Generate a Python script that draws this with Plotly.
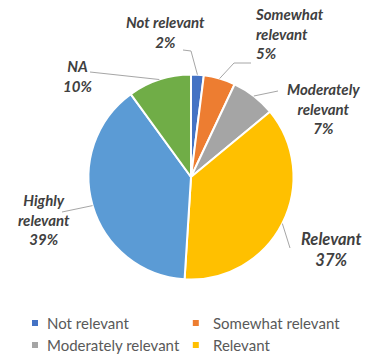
import plotly.graph_objects as go
import math

# Survey answers and their shares (%)
categories = ["Not relevant", "Somewhat relevant", "Moderately relevant",
              "Relevant", "Highly relevant", "NA"]
shares = [2, 5, 7, 37, 39, 10]
colors = ["#4472C4", "#ED7D31", "#A5A5A5", "#FFC000", "#5B9BD5", "#70AD47"]
label_lines = [["Not relevant"], ["Somewhat", "relevant"], ["Moderately", "relevant"],
               ["Relevant"], ["Highly", "relevant"], ["NA"]]
legend_items = categories[:4]

W, H = 366, 356
CX, CY, R = 191, 177, 102.5


def paper(x, y):
    return x / W, 1 - y / H


# label placement: (x, y, xanchor, font size) and leader-line points from the label side
label_pos = [
    (165, 32, "center", 15),
    (253, 33, "left", 15),
    (323, 108, "center", 15),
    (331, 249, "center", 16.5),
    (44, 219, "center", 15),
    (77, 76, "center", 15),
]
leader_pts = [
    [(183, 50), (191, 51)],
    [(251, 63), (234, 63)],
    [(278, 91)],
    [(290, 248)],
    [(62, 212)],
    [(90, 72)],
]

fig = go.Figure()
x0, y1 = paper(CX - R, CY - R)
x1, y0 = paper(CX + R, CY + R)
fig.add_trace(go.Pie(
    labels=categories, values=shares, sort=False, direction="clockwise", rotation=0,
    marker=dict(colors=colors, line=dict(color="white", width=2)),
    textinfo="none", hoverinfo="label+percent", showlegend=False,
    domain=dict(x=[x0, x1], y=[y0, y1]),
))

annotations = []
shapes = []
total = sum(shares)
cum = 0
lab_font = "Lato, 'Open Sans', sans-serif"
for i, v in enumerate(shares):
    mid = (cum + v / 2) / total * 2 * math.pi
    cum += v
    ex, ey = CX + R * math.sin(mid), CY - R * math.cos(mid)
    pts = leader_pts[i] + [(ex, ey)]
    path = "M " + " L ".join(f"{paper(px, py)[0]},{paper(px, py)[1]}" for px, py in pts)
    shapes.append(dict(type="path", path=path, xref="paper", yref="paper",
                       line=dict(color="#A6A6A6", width=1)))
    lx, ly, anchor, fs = label_pos[i]
    ax_, ay_ = paper(lx, ly)
    annotations.append(dict(
        x=ax_, y=ay_, xref="paper", yref="paper", xanchor=anchor, yanchor="middle",
        text="<br>".join(f"<b><i>{t}</i></b>" for t in label_lines[i] + [f"{v}%"]),
        showarrow=False, align=anchor,
        font=dict(family=lab_font, size=fs, color="#404040"),
    ))

# legend: small squares and names in two columns
sq_x = [35, 195.8]
txt_x = [45, 211]
row_y = [323, 345]
for i, name in enumerate(legend_items):
    c, r = i % 2, i // 2
    sx, sy = sq_x[c], row_y[r]
    a0, b1 = paper(sx - 3, sy - 3)
    a1, b0 = paper(sx + 3, sy + 3)
    shapes.append(dict(type="rect", xref="paper", yref="paper", x0=a0, x1=a1, y0=b0, y1=b1,
                       fillcolor=colors[categories.index(name)], line=dict(width=0)))
    tx, ty = paper(txt_x[c], sy)
    annotations.append(dict(
        x=tx, y=ty, xref="paper", yref="paper", xanchor="left", yanchor="middle",
        text=name, showarrow=False,
        font=dict(family=lab_font, size=15, color="#595959"),
    ))

fig.update_layout(
    width=W, height=H, margin=dict(l=0, r=0, t=0, b=0),
    paper_bgcolor="white", plot_bgcolor="white",
    annotations=annotations, shapes=shapes,
)
fig.write_html("out.html")
